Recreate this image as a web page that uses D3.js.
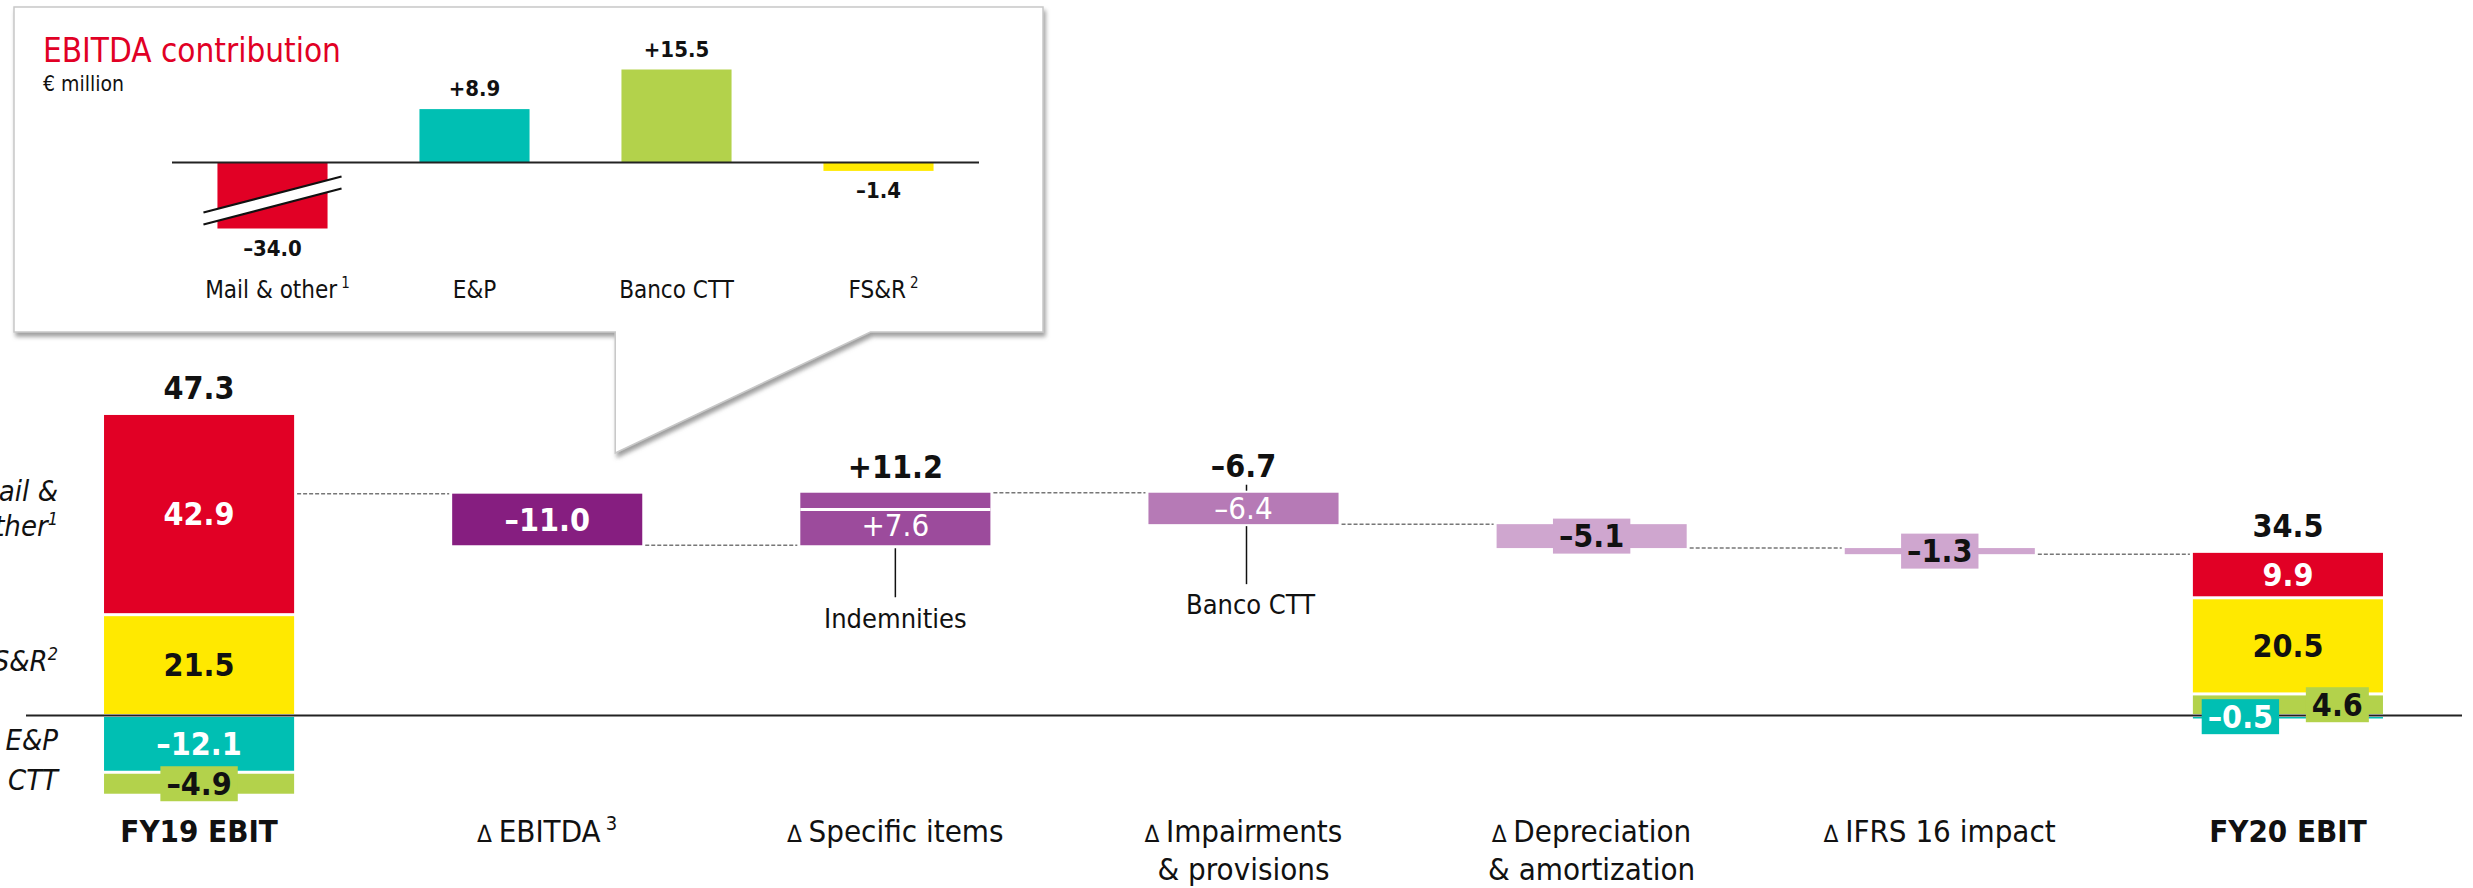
<!DOCTYPE html>
<html><head><meta charset="utf-8">
<script src="https://cdn.jsdelivr.net/npm/d3@7"></script>
<style>
body{margin:0;background:#fff}
svg{display:block}
text{font-family:'Liberation Sans Narrow','DejaVu Sans Condensed','Roboto',sans-serif}
</style>
</head><body>
<svg id="c" width="2473" height="888"></svg>
<script>
// ---------------- DATA ----------------
const categories = ["FY19 EBIT","Δ EBITDA","Δ Specific items","Δ Impairments & provisions","Δ Depreciation & amortization","Δ IFRS 16 impact","FY20 EBIT"];
const categoryLines = [["FY19 EBIT"],["EBITDA"],["Specific items"],["Impairments","& provisions"],["Depreciation","& amortization"],["IFRS 16 impact"],["FY20 EBIT"]];
const categoryDelta = [false,true,true,true,true,true,false];
const categorySup = ["","3","","","","",""];
const totals = [47.3, 34.5];
const deltas = [-11.0, 11.2, -6.7, -5.1, -1.3];
const deltaColors = ["#861e80","#9c4b9c","#b67ab6","#cfa6cf","#cfa6cf"];
const segments = ["E&P","Banco CTT","FS&R","Mail & other"];
const segmentSup = ["","","2","1"];
const segmentColors = ["#00bfb3","#b3d24b","#ffe900","#e10025"];
const segmentText = ["#ffffff","#111111","#111111","#ffffff"];
const fy19Values = [-12.1, -4.9, 21.5, 42.9];
const fy20Values = [-0.5, 4.6, 20.5, 9.9];
const indemnities = 7.6;      // part of Δ Specific items
const bancoImpairment = -6.4; // part of Δ Impairments
const miniCategories = ["Mail & other","E&P","Banco CTT","FS&R"];
const miniSup = ["1","","","2"];
const miniValues = [-34.0, 8.9, 15.5, -1.4];
const miniColors = ["#e10025","#00bfb3","#b3d24b","#ffe900"];

// ---------------- HELPERS ----------------
const fmt = v => (v < 0 ? "\u2013" : "") + Math.abs(v).toFixed(1);
const fmtS = v => (v < 0 ? "\u2013" : "+") + Math.abs(v).toFixed(1);

const svg = d3.select("#c");
const defs = svg.append("defs");
const f = defs.append("filter").attr("id","sh").attr("x","-5%").attr("y","-5%").attr("width","110%").attr("height","120%");
f.append("feDropShadow").attr("dx",2).attr("dy",4).attr("stdDeviation",2).attr("flood-color","#777").attr("flood-opacity",0.7);

// ---------------- SCALES ----------------
const x = d3.scaleBand().domain(categories).range([25, 2462]).paddingInner(0.454).paddingOuter(0.227);
const bw = x.bandwidth();
const y = d3.scaleLinear().domain([0, 47.3]).range([715.5, 715.5 - 47.3*4.69]);

// ---------------- CALLOUT ----------------
const bx0 = 14, by0 = 7, bx1 = 1043, by1 = 332;
const pL = x(categories[1]) + bw*0.858, pR = x(categories[2]) + bw*0.369, pTip = 453;
svg.append("path")
  .attr("d", `M${bx0},${by0}H${bx1}V${by1}H${pR}L${pL},${pTip}V${by1}H${bx0}Z`)
  .attr("fill","#fff").attr("stroke","#c8c8c8").attr("stroke-width",1.5).attr("filter","url(#sh)");

svg.append("text").attr("x",43).attr("y",62).attr("font-size",33).attr("fill","#e10025").text("EBITDA contribution");
svg.append("text").attr("x",43).attr("y",91).attr("font-size",21).attr("fill","#111").text("€ million");

const xm = d3.scaleBand().domain(miniCategories).range([172, 979]).paddingInner(0.455).paddingOuter(0.225);
const ym = d3.scaleLinear().domain([0, 15.5]).range([162.5, 162.5 - 93]);
const miniBreak = -11; // axis break for the large bar
const mg = svg.append("g");
miniCategories.forEach((c,i)=>{
  const v = miniValues[i];
  const shown = Math.max(v, miniBreak);
  const x0 = xm(c), w = xm.bandwidth();
  const top = ym(Math.max(0,shown)), bot = ym(Math.min(0,shown));
  mg.append("rect").attr("x",x0).attr("y",top).attr("width",w).attr("height",bot-top).attr("fill",miniColors[i]);
  if (v < miniBreak) {
    const ext = 14;
    const a1 = [x0-ext, bot-16], b1 = [x0+w+ext, bot-52];
    const a2 = [x0-ext, bot-4], b2 = [x0+w+ext, bot-40];
    mg.append("path").attr("d",`M${a1}L${b1}L${b2}L${a2}Z`).attr("fill","#fff");
    mg.append("path").attr("d",`M${a1}L${b1}M${a2}L${b2}`).attr("stroke","#111").attr("stroke-width",2.2);
  }
  const ly = v >= 0 ? top - 13 : bot + 27;
  mg.append("text").attr("x",x0+w/2).attr("y",ly).attr("text-anchor","middle")
    .attr("font-size",22).attr("font-weight","bold").attr("fill","#111").text(v>=0?fmtS(v):fmt(v));
  const t = mg.append("text").attr("x",x0+w/2 + (miniSup[i]?5:0)).attr("y",298).attr("text-anchor","middle")
    .attr("font-size",24).attr("fill","#111").text(c);
  if (miniSup[i]) t.append("tspan").attr("dx",4).attr("dy",-10).attr("font-size",15).text(miniSup[i]);
});
mg.append("line").attr("x1",172).attr("x2",979).attr("y1",ym(0)).attr("y2",ym(0)).attr("stroke","#222").attr("stroke-width",2);

// ---------------- WATERFALL ----------------
let run = totals[0];
const steps = deltas.map((d,i)=>{ const s = {cat:categories[i+1], from:run, to:run+d, value:d, color:deltaColors[i]}; run += d; return s; });
const levels = [totals[0], ...steps.map(s=>s.to)];

// connectors
const cg = svg.append("g");
levels.forEach((lv,k)=>{
  cg.append("line").attr("x1", x(categories[k]) + bw + 3).attr("x2", x(categories[k+1]) - 3)
    .attr("y1", y(lv)).attr("y2", y(lv))
    .attr("stroke","#777").attr("stroke-width",1.5).attr("stroke-dasharray","4,2");
});

// zero axis
svg.append("line").attr("x1",26).attr("x2",2462).attr("y1",y(0)).attr("y2",y(0)).attr("stroke","#222").attr("stroke-width",2.2);

// stacked totals
const stackRows = [fy19Values, fy20Values].map(vals => Object.fromEntries(segments.map((s,i)=>[s, vals[i]])));
const series = d3.stack().keys(segments).offset(d3.stackOffsetDiverging)(stackRows);
const totalCats = [categories[0], categories[6]];
const sg = svg.append("g");
const smallShift = [{}, {"E&P": -0.25, "Banco CTT": 0.26}];
const labelLater = [];
series.forEach((ser, j)=>{
  ser.forEach((d, i)=>{
    const a = y(d[1]), b = y(d[0]);
    const top = Math.min(a,b), h = Math.abs(b-a);
    sg.append("rect").attr("x", x(totalCats[i])).attr("y", top + 1.5).attr("width", bw)
      .attr("height", Math.max(1.5, h - 3)).attr("fill", segmentColors[j]);
    const v = d.data[segments[j]];
    const cx = x(totalCats[i]) + bw/2, cy = (a+b)/2;
    if (h >= 30) {
      labelLater.push({x:cx, y:cy, text:fmt(v), color:segmentText[j], bold:true});
    } else {
      const shift = (smallShift[i][segments[j]] || 0) * bw;
      labelLater.push({x:cx+shift, y:cy, text:fmt(v), color:segmentText[j], bold:true, box:segmentColors[j]});
    }
  });
});
// total values on top
totals.forEach((t,i)=>{
  const top = d3.min(series, s => y(s[i][1]));
  svg.append("text").attr("x", x(totalCats[i]) + bw/2).attr("y", top - 14).attr("text-anchor","middle")
    .attr("font-size",32).attr("font-weight","bold").attr("fill","#111").text(t.toFixed(1));
});

// left segment names
const leftG = svg.append("g");
segments.forEach((s,j)=>{
  const d = series[j][0];
  const cy = (y(d[0]) + y(d[1]))/2;
  const parts = s === "Mail & other" ? ["Mail &","other"] : [s];
  parts.forEach((p,k)=>{
    const t = leftG.append("text").attr("x", 58).attr("text-anchor","end")
      .attr("y", parts.length === 1 ? cy + 6 : cy - 13 + k*35)
      .attr("font-size",29).attr("font-style","italic").attr("fill","#111").text(p);
    if (k === parts.length-1 && segmentSup[j]) {
      t.append("tspan").attr("dy",-11).attr("font-size",18).text(segmentSup[j]);
    }
  });
});

// delta bars
const dg = svg.append("g");
steps.forEach((s,i)=>{
  const top = y(Math.max(s.from,s.to)), bot = y(Math.min(s.from,s.to));
  const x0 = x(s.cat), cx = x0 + bw/2;
  dg.append("rect").attr("x",x0).attr("y",top).attr("width",bw).attr("height",bot-top).attr("fill",s.color);
  if (i === 0) {
    labelLater.push({x:cx, y:(top+bot)/2, text:fmt(s.value), color:"#fff", bold:true});
  } else if (i === 1) {
    const split = y(s.from + indemnities);
    dg.append("line").attr("x1",x0).attr("x2",x0+bw).attr("y1",split).attr("y2",split).attr("stroke","#fff").attr("stroke-width",3);
    labelLater.push({x:cx, y:(split+bot)/2 - 2, text:fmtS(indemnities), color:"#fff", bold:false});
    svg.append("text").attr("x",cx).attr("y",top-15).attr("text-anchor","middle").attr("font-size",32)
      .attr("font-weight","bold").attr("fill","#111").text(fmtS(s.value));
    dg.append("line").attr("x1",cx).attr("x2",cx).attr("y1",bot+3).attr("y2",bot+52).attr("stroke","#111").attr("stroke-width",1.5);
    svg.append("text").attr("x",cx).attr("y",bot+83).attr("text-anchor","middle").attr("font-size",27).attr("fill","#111").text("Indemnities");
  } else if (i === 2) {
    labelLater.push({x:cx, y:(top+bot)/2, text:fmt(bancoImpairment), color:"#fff", bold:false});
    svg.append("text").attr("x",cx).attr("y",top-16).attr("text-anchor","middle").attr("font-size",32)
      .attr("font-weight","bold").attr("fill","#111").text(fmt(s.value));
    dg.append("line").attr("x1",cx+3).attr("x2",cx+3).attr("y1",top-8).attr("y2",top-2).attr("stroke","#111").attr("stroke-width",1.5);
    dg.append("line").attr("x1",cx+3).attr("x2",cx+3).attr("y1",bot+2).attr("y2",bot+60).attr("stroke","#111").attr("stroke-width",1.5);
    svg.append("text").attr("x",cx+7).attr("y",bot+90).attr("text-anchor","middle").attr("font-size",27).attr("fill","#111").text("Banco CTT");
  } else {
    labelLater.push({x:cx, y:(top+bot)/2, text:fmt(s.value), color:"#111", bold:true, box:s.color});
  }
});

// value labels (with optional background boxes)
const lg = svg.append("g");
labelLater.forEach(l=>{
  const g = lg.append("g");
  const r = g.append("rect");
  const fs = l.bold ? 32 : 31;
  const t = g.append("text").attr("x",l.x).attr("y",l.y + 0.355*fs).attr("text-anchor","middle")
    .attr("font-size",fs).attr("font-weight",l.bold?"bold":"normal").attr("fill",l.color).text(l.text);
  if (l.box) {
    const bb = t.node().getBBox();
    r.attr("x",bb.x-6).attr("y",l.y-17.5).attr("width",bb.width+12).attr("height",35).attr("fill",l.box);
  } else r.remove();
});

// category labels
const xg = svg.append("g");
categories.forEach((c,i)=>{
  const cx = x(c) + bw/2;
  categoryLines[i].forEach((line,k)=>{
    const t = xg.append("text").attr("x",cx).attr("y",842 + k*38).attr("text-anchor","middle")
      .attr("font-size",31).attr("fill","#111").attr("font-weight", categoryDelta[i] ? "normal" : "bold");
    if (categoryDelta[i] && k === 0) t.append("tspan").attr("font-size",24).text("\u2206 ");
    if (categoryDelta[i] && k > 0) t.append("tspan").attr("font-size",24).text("");
    t.append("tspan").text(line);
    if (k === 0 && categorySup[i]) t.append("tspan").attr("dx",5).attr("dy",-12).attr("font-size",20).text(categorySup[i]);
  });
});
</script>
</body></html>
